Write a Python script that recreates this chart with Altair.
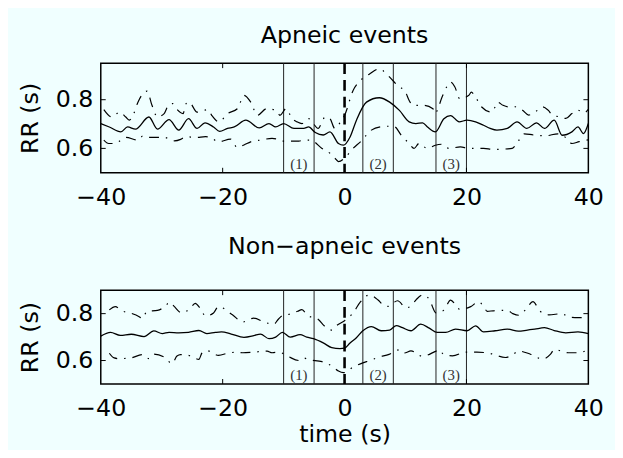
import altair as alt
import pandas as pd

FONT = "DejaVu Sans"
BG = "#f0ffff"

# ---------------- Apneic events ----------------
ap_mean_t = [-40.0, -38.6, -36.7, -35.6, -34.3, -32.1, -30.7, -28.8, -27.2, -25.6, -24.2, -22.9, -21.5,
             -20.5, -19.2, -18.1, -16.2, -14.0, -12.4, -11.3, -10.0, -8.3, -6.7, -5.9, -4.8, -3.5, -2.4,
             -1.0, -0.2, 0.9, 1.95, 3.6, 5.7, 7.4, 9.0, 10.6, 11.7, 12.8, 13.6, 14.9, 16.3, 17.4, 18.8,
             20.1, 21.5, 22.8, 23.9, 25.0, 26.7, 28.3, 29.9, 31.5, 32.8, 34.4, 35.7, 37.3, 38.3, 39.2, 40.0]
ap_mean_v = [0.702, 0.688, 0.668, 0.688, 0.679, 0.729, 0.679, 0.718, 0.675, 0.722, 0.682, 0.705, 0.688,
             0.670, 0.682, 0.688, 0.716, 0.684, 0.702, 0.688, 0.702, 0.682, 0.682, 0.688, 0.665, 0.655, 0.668,
             0.620, 0.613, 0.647, 0.716, 0.790, 0.808, 0.790, 0.756, 0.709, 0.702, 0.705, 0.688, 0.668, 0.722,
             0.735, 0.709, 0.716, 0.709, 0.695, 0.682, 0.675, 0.682, 0.709, 0.682, 0.705, 0.682, 0.716, 0.654,
             0.668, 0.688, 0.661, 0.702]

ap_up_t = [-39.5, -38.2, -36.9, -35.9, -35.3, -34.7, -33.9, -32.4, -31.6, -30.7, -29.6, -28.9, -28.2,
           -27.6, -26.5, -26.0, -25.5, -24.2, -23.1, -22.4, -21.8, -20.6, -19.2, -17.6, -17.3, -16.5,
           -15.4, -14.3, -12.8, -11.2, -10.6, -9.6, -8.6, -7.8, -7.0, -5.9, -4.3, -3.7, -3.2, -2.4, -1.6,
           -0.5, 0.0, 1.4, 2.6, 4.1, 5.7, 6.6, 7.4, 8.7, 10.0, 10.6, 11.2, 13.1, 14.5, 14.9, 15.2, 16.0,
           16.9, 17.4, 18.1, 18.9, 20.4, 20.8, 21.3, 22.5, 24.1, 24.7, 25.1, 26.0, 27.0, 28.0, 29.2, 30.2,
           31.3, 32.5, 33.4, 34.1, 35.2, 36.3, 37.3, 38.3, 39.2, 40.0]
ap_up_v = [0.759, 0.729, 0.749, 0.729, 0.716, 0.736, 0.790, 0.835, 0.777, 0.729, 0.743, 0.777, 0.784,
           0.763, 0.743, 0.784, 0.790, 0.749, 0.756, 0.759, 0.736, 0.709, 0.743, 0.763, 0.777, 0.818,
           0.790, 0.736, 0.763, 0.756, 0.736, 0.763, 0.722, 0.709, 0.702, 0.722, 0.682, 0.709, 0.729, 0.722,
           0.682, 0.716, 0.736, 0.838, 0.879, 0.906, 0.927, 0.913, 0.893, 0.858, 0.831, 0.797, 0.777, 0.777,
           0.763, 0.743, 0.756, 0.811, 0.858, 0.872, 0.852, 0.804, 0.818, 0.831, 0.818, 0.770, 0.749, 0.770,
           0.790, 0.777, 0.770, 0.771, 0.757, 0.737, 0.750, 0.771, 0.757, 0.737, 0.730, 0.723, 0.743, 0.757,
           0.745, 0.760]

ap_lo_t = [-39.5, -38.7, -37.6, -37.1, -35.9, -33.9, -33.1, -32.3, -29.6, -27.9, -26.9, -26.1, -24.4,
           -22.8, -22.0, -20.7, -18.7, -17.6, -16.5, -15.4, -13.8, -11.9, -11.1, -10.3, -9.4, -7.5, -6.7,
           -5.6, -3.7, -2.4, -1.6, -1.0, 0.0, 1.4, 2.6, 4.4, 6.0, 7.1, 8.2, 9.3, 10.6, 11.4, 12.2, 13.6,
           14.9, 16.0, 17.1, 19.0, 20.4, 21.5, 22.8, 24.4, 26.0, 27.5, 28.5, 29.5, 31.0, 33.0, 35.0, 36.5,
           37.3, 38.5, 40.0]
ap_lo_v = [0.634, 0.620, 0.620, 0.627, 0.645, 0.634, 0.651, 0.645, 0.645, 0.631, 0.637, 0.648, 0.645,
           0.648, 0.645, 0.627, 0.638, 0.604, 0.614, 0.627, 0.634, 0.641, 0.638, 0.630, 0.630, 0.630, 0.634,
           0.634, 0.600, 0.580, 0.560, 0.546, 0.560, 0.600, 0.627, 0.675, 0.689, 0.691, 0.689, 0.654, 0.620,
           0.600, 0.620, 0.600, 0.613, 0.617, 0.600, 0.606, 0.600, 0.600, 0.600, 0.596, 0.597, 0.600, 0.630,
           0.660, 0.655, 0.652, 0.660, 0.640, 0.620, 0.628, 0.635]

# ---------------- Non-apneic events ----------------
na_mean_t = [-40.0, -38.4, -36.8, -35.0, -32.9, -31.3, -29.9, -28.8, -27.2, -25.6, -23.9, -22.6, -21.2,
             -20.2, -18.6, -16.5, -14.9, -13.8, -12.4, -11.3, -10.2, -8.9, -7.3, -6.2, -5.1, -3.5, -2.1,
             -0.75, 0.0, 0.9, 1.9, 3.0, 4.4, 6.0, 7.4, 8.5, 9.5, 10.9, 12.5, 13.9, 15.2, 16.6, 18.2, 20.1,
             21.5, 22.8, 24.7, 26.7, 28.5, 30.0, 31.2, 32.8, 34.4, 36.3, 38.3, 40.0]
na_mean_v = [0.704, 0.720, 0.707, 0.712, 0.702, 0.726, 0.715, 0.720, 0.718, 0.720, 0.728, 0.715, 0.720,
             0.722, 0.713, 0.699, 0.706, 0.713, 0.693, 0.700, 0.720, 0.700, 0.710, 0.700, 0.693, 0.675, 0.655,
             0.651, 0.653, 0.675, 0.696, 0.727, 0.745, 0.727, 0.730, 0.749, 0.740, 0.727, 0.755, 0.738, 0.720,
             0.720, 0.734, 0.727, 0.748, 0.722, 0.727, 0.734, 0.725, 0.730, 0.734, 0.740, 0.728, 0.718, 0.722,
             0.715]

na_up_t = [-38.6, -37.6, -36.7, -35.2, -33.7, -33.2, -32.4, -30.7, -29.4, -28.7, -28.0, -26.7, -25.3,
           -24.5, -23.7, -22.8, -21.5, -20.7, -18.4, -16.7, -15.9, -14.9, -13.2, -11.6, -10.9, -10.2, -9.4,
           -7.7, -7.0, -6.1, -4.3, -3.3, -2.1, -1.3, 0.0, 1.4, 2.6, 4.1, 5.5, 6.3, 7.1, 8.7, 10.1, 10.9,
           11.7, 12.8, 14.0, 14.4, 15.0, 16.3, 17.4, 18.2, 18.9, 20.7, 22.0, 22.8, 23.4, 24.4, 26.7, 27.6,
           28.6, 29.8, 30.9, 32.1, 33.5, 35.7, 36.7, 38.3, 40.0]
na_up_v = [0.816, 0.830, 0.814, 0.803, 0.787, 0.779, 0.810, 0.814, 0.832, 0.849, 0.832, 0.803, 0.823,
           0.844, 0.823, 0.790, 0.803, 0.830, 0.795, 0.764, 0.772, 0.781, 0.764, 0.755, 0.775, 0.791, 0.795,
           0.810, 0.817, 0.793, 0.775, 0.747, 0.730, 0.749, 0.770, 0.803, 0.850, 0.880, 0.858, 0.838, 0.831,
           0.855, 0.825, 0.832, 0.858, 0.880, 0.858, 0.831, 0.803, 0.815, 0.858, 0.838, 0.818, 0.830, 0.851,
           0.831, 0.810, 0.812, 0.814, 0.800, 0.793, 0.820, 0.851, 0.810, 0.795, 0.800, 0.786, 0.783, 0.785]

na_lo_t = [-38.6, -37.8, -37.0, -35.1, -33.2, -32.1, -31.3, -29.6, -28.3, -27.5, -26.9, -25.3, -23.9,
           -23.4, -22.6, -20.7, -18.9, -17.8, -16.7, -14.9, -12.7, -11.9, -10.8, -9.3, -7.5, -6.7, -5.9,
           -3.7, -2.0, -1.0, -0.2, 1.4, 3.0, 4.2, 5.5, 7.3, 9.0, 9.8, 10.9, 12.8, 14.9, 15.5, 16.3, 17.7,
           19.9, 20.7, 21.7, 23.9, 26.4, 27.3, 28.6, 30.5, 32.5, 33.8, 34.4, 36.7, 38.3, 39.6, 40.0]
na_lo_v = [0.631, 0.611, 0.608, 0.611, 0.625, 0.608, 0.627, 0.615, 0.587, 0.619, 0.625, 0.620, 0.605,
           0.632, 0.642, 0.622, 0.633, 0.635, 0.633, 0.636, 0.640, 0.633, 0.636, 0.618, 0.600, 0.611, 0.604,
           0.595, 0.575, 0.555, 0.548, 0.572, 0.590, 0.600, 0.614, 0.626, 0.646, 0.632, 0.641, 0.618, 0.639,
           0.646, 0.625, 0.620, 0.636, 0.636, 0.636, 0.630, 0.613, 0.620, 0.640, 0.627, 0.606, 0.627, 0.647,
           0.633, 0.633, 0.640, 0.627]

# ---------------- shared annotations ----------------
x_ticks = [-40, -20, 0, 20, 40]
inner_x_ticks = [-20, 0, 20]
y_ticks = [0.6, 0.8]
window_bounds = [-10, -5, 3, 8, 15, 20]
event_onset = [0]
window_labels = ["(1)", "(2)", "(3)"]
window_centers = [-7.5, 5.5, 17.5]
window_label_y = [0.537, 0.537, 0.537]

W = 494
TICK_FS = 24
YTITLE_FS = 24
TITLE_FS = 24


def panel(mean_t, mean_v, up_t, up_v, lo_t, lo_v, ydom, h, title, title_offset, xtitle):
    xs = alt.Scale(domain=[-40, 40], nice=False, zero=False)
    ys = alt.Scale(domain=ydom, nice=False, zero=False)
    xaxis = alt.Axis(values=x_ticks, format="d", title=xtitle, labelFontSize=TICK_FS,
                     labelFont=FONT, titleFont=FONT, titleFontSize=TICK_FS, titleFontWeight="normal",
                     labelPadding=13, titlePadding=2, labelFlush=False, labelColor="black",
                     titleColor="black", domain=False, ticks=False, grid=False)
    yaxis = alt.Axis(values=y_ticks, format=".1f", title="RR (s)", labelFontSize=TICK_FS,
                     labelFont=FONT, titleFont=FONT, titleFontSize=YTITLE_FS, titleFontWeight="normal",
                     labelPadding=8, titlePadding=13, labelColor="black", titleColor="black",
                     domain=False, ticks=False, grid=False)
    X = alt.X("t:Q", scale=xs, axis=xaxis)
    Y = alt.Y("v:Q", scale=ys, axis=yaxis)

    mean_df = pd.DataFrame({"t": mean_t, "v": mean_v})
    up_df = pd.DataFrame({"t": up_t, "v": up_v})
    lo_df = pd.DataFrame({"t": lo_t, "v": lo_v})
    bounds_df = pd.DataFrame({"t": window_bounds})
    onset_df = pd.DataFrame({"t": event_onset})
    lab_df = pd.DataFrame({"t": window_centers, "v": window_label_y, "lab": window_labels})
    xt_df = pd.DataFrame({"t": inner_x_ticks})
    yt_df = pd.DataFrame({"v": y_ticks})

    rules = alt.Chart(bounds_df).mark_rule(color="#222222", strokeWidth=1).encode(x=X)
    dashdot = [10, 7, 1.5, 7]
    up = alt.Chart(up_df).mark_line(color="black", strokeWidth=1.2, strokeDash=dashdot,
                                    interpolate="monotone", clip=True).encode(x=X, y=Y)
    lo = alt.Chart(lo_df).mark_line(color="black", strokeWidth=1.2, strokeDash=dashdot,
                                    interpolate="monotone", clip=True).encode(x=X, y=Y)
    mean = alt.Chart(mean_df).mark_line(color="black", strokeWidth=1.3,
                                        interpolate="monotone", clip=True).encode(x=X, y=Y)
    onset = alt.Chart(onset_df).mark_rule(color="black", strokeWidth=2.6,
                                          strokeDash=[11, 6]).encode(x=X)
    labs = alt.Chart(lab_df).mark_text(font="Liberation Serif", fontSize=15, color="#333333",
                                       baseline="middle").encode(x=X, y=Y, text="lab:N")
    xt_bot = alt.Chart(xt_df).mark_rule(color="black", strokeWidth=1).encode(
        x=X, y=alt.value(h), y2=alt.value(h - 5))
    xt_top = alt.Chart(xt_df).mark_rule(color="black", strokeWidth=1).encode(
        x=X, y=alt.value(0), y2=alt.value(5))
    yt_l = alt.Chart(yt_df).mark_rule(color="black", strokeWidth=1).encode(
        y=Y, x=alt.value(0), x2=alt.value(5))
    yt_r = alt.Chart(yt_df).mark_rule(color="black", strokeWidth=1).encode(
        y=Y, x=alt.value(W), x2=alt.value(W - 5))

    return alt.layer(rules, up, lo, mean, onset, labs, xt_bot, xt_top, yt_l, yt_r).properties(
        width=W, height=h,
        title=alt.TitleParams(title, font=FONT, fontSize=TITLE_FS, fontWeight="normal",
                              color="black", offset=title_offset))


top = panel(ap_mean_t, ap_mean_v, ap_up_t, ap_up_v, ap_lo_t, ap_lo_v, [0.5, 0.95], 111,
            "Apneic events", 14.5, None)
bottom = panel(na_mean_t, na_mean_v, na_up_t, na_up_v, na_lo_t, na_lo_v, [0.5, 0.9], 95,
               "Non\u2212apneic events", 30.5, "time (s)")

chart = alt.vconcat(top, bottom, spacing=24).properties(
    background=BG,
    padding={"left": 10, "top": 12, "right": 10, "bottom": 0},
).configure_view(stroke="black", strokeWidth=1.5)

chart.save("out.html", embed_options={"renderer": "svg", "actions": False})
